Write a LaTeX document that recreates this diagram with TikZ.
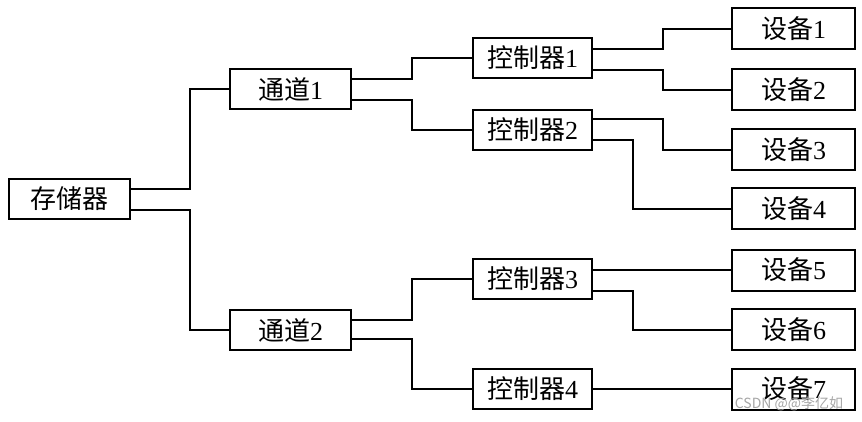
\documentclass[tikz,border=0pt]{standalone}
\usepackage{fontspec}
\setmainfont{Liberation Serif}
\newfontfamily\cjk{Noto Sans CJK SC}
\begin{document}
\begin{tikzpicture}[x=1pt,y=-1pt,
  box/.style={draw=black,line width=2pt,fill=white,inner sep=0pt,
    minimum width=121pt,minimum height=40pt,
    font=\fontsize{26}{30}\selectfont},
  ctl/.style={box,minimum width=119pt},
  dev/.style={box,minimum width=123pt,minimum height=41pt},
  conn/.style={draw=black,line width=2pt}]
\useasboundingbox (0,0) rectangle (862,421);
\fill[white] (0,0) rectangle (862,421);

\node[box] (mem) at (69.5,199) {{\cjk 存储器}};
\node[box] (ch1) at (290.5,89) {{\cjk 通道}1};
\node[box] (ch2) at (290.5,330) {{\cjk 通道}2};

\node[ctl] (c1) at (532.5,58) {{\cjk 控制器}1};
\node[ctl] (c2) at (532.5,129.5) {{\cjk 控制器}2};
\node[ctl] (c3) at (532.5,279) {{\cjk 控制器}3};
\node[ctl] (c4) at (532.5,389) {{\cjk 控制器}4};

\node[dev] (d1) at (793.5,28.5) {{\cjk 设备}1};
\node[dev] (d2) at (793.5,89.5) {{\cjk 设备}2};
\node[dev] (d3) at (793.5,149.5) {{\cjk 设备}3};
\node[dev] (d4) at (793.5,208.5) {{\cjk 设备}4};
\node[dev] (d5) at (793.5,270) {{\cjk 设备}5};
\node[dev] (d6) at (793.5,329.5) {{\cjk 设备}6};
\node[dev] (d7) at (793.5,389) {{\cjk 设备}7};

% memory to channels
\draw[conn] ([yshift=10pt]mem.east) -- ++(59,0) |- (ch1.west);
\draw[conn] ([yshift=-11pt]mem.east) -- ++(59,0) |- (ch2.west);
% channels to controllers
\draw[conn] ([yshift=10pt]ch1.east) -- ++(60,0) |- (c1.west);
\draw[conn] ([yshift=-11pt]ch1.east) -- ++(60,0) |- (c2.west);
\draw[conn] ([yshift=10pt]ch2.east) -- ++(60,0) |- (c3.west);
\draw[conn] ([yshift=-9pt]ch2.east) -- ++(60,0) |- (c4.west);
% controllers to devices
\draw[conn] ([yshift=9pt]c1.east) -- ++(70,0) |- (d1.west);
\draw[conn] ([yshift=-12pt]c1.east) -- ++(70,0) |- (d2.west);
\draw[conn] ([yshift=11pt]c2.east) -- ++(70,0) |- (d3.west);
\draw[conn] ([yshift=-10pt]c2.east) -- ++(40,0) |- (d4.west);
\draw[conn] (c3.east |- d5.west) -- (d5.west);
\draw[conn] ([yshift=-12pt]c3.east) -- ++(40,0) |- (d6.west);
\draw[conn] (c4.east |- d7.west) -- (d7.west);

\node[text=gray!70,font=\cjk\fontsize{14}{16}\selectfont,inner sep=0pt] (wm) at (789,404) {CSDN @@李亿如};
\end{tikzpicture}
\end{document}
